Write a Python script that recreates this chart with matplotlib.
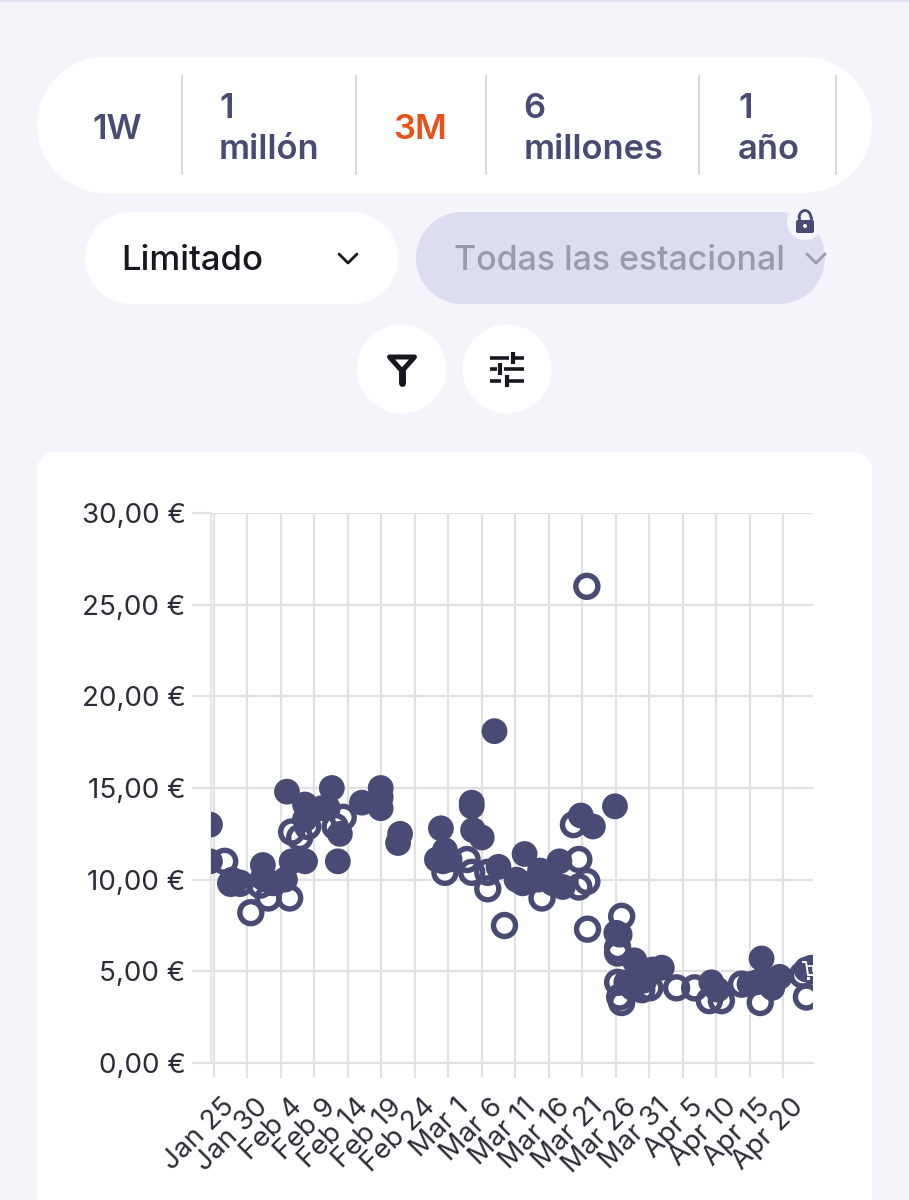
import numpy as np
import matplotlib
matplotlib.use("Agg")
import matplotlib.pyplot as plt
from matplotlib.patches import FancyBboxPatch, Circle, Polygon, Rectangle, Arc
from matplotlib.transforms import ScaledTranslation

plt.rcParams['font.family'] = ['Inter', 'DejaVu Sans']

# ---------- data ----------
tick_days = [0, 5, 10, 15, 20, 25, 30, 35, 40, 45, 50, 55, 60, 65, 70, 75, 80, 85]
tick_labels = ["Jan 25", "Jan 30", "Feb 4", "Feb 9", "Feb 14", "Feb 19", "Feb 24", "Mar 1", "Mar 6",
               "Mar 11", "Mar 16", "Mar 21", "Mar 26", "Mar 31", "Apr 5", "Apr 10", "Apr 15", "Apr 20"]
y_ticks = [0, 5, 10, 15, 20, 25, 30]
y_labels = ["0,00 €", "5,00 €", "10,00 €", "15,00 €", "20,00 €", "25,00 €", "30,00 €"]

filled_days = [-0.6, -0.6, 2.7, 3.2, 7.3, 7.3, 8.8, 10.6, 11.6, 13.6, 10.9, 13.6, 13.6, 17.6, 17.0, 16.1,
               18.8, 18.5, 22.1, 24.9, 24.9, 24.9, 27.8, 27.5, 33.9, 34.5, 33.3, 34.2, 35.2, 38.5, 38.5,
               38.7, 40.0, 41.9, 42.5, 46.4, 45.2, 46.1, 48.7, 48.4, 51.6, 52.1, 50.6, 54.8, 56.6, 59.9,
               60.1, 60.6, 62.8, 66.9, 65.5, 62.5, 61.6, 64.3, 74.3, 75.2, 81.0, 83.4, 82.2, 81.8, 84.5,
               88.5, 89.3, 80.0]
filled_prices = [13.0, 11.0, 10.0, 9.9, 10.8, 10.1, 9.8, 10.0, 11.0, 11.0, 14.8, 14.1, 13.3, 15.0, 13.9, 13.9,
                 12.5, 11.0, 14.2, 15.0, 14.5, 13.9, 12.5, 12.0, 12.8, 11.6, 11.1, 11.0, 11.1, 14.2, 14.0,
                 12.7, 12.3, 18.1, 10.7, 11.4, 10.0, 9.8, 10.5, 10.0, 11.0, 9.6, 9.8, 13.5, 12.9, 14.0,
                 7.1, 7.0, 5.6, 5.2, 5.1, 4.1, 4.4, 4.5, 4.4, 4.0, 4.4, 4.1, 4.6, 5.7, 4.7,
                 5.1, 5.2, 4.3]
hollow_days = [1.6, 2.5, 3.9, 5.5, 6.9, 8.1, 11.3, 11.6, 12.8, 14.0, 18.1, 19.3, 34.5, 37.8, 38.5, 40.9,
               40.9, 43.4, 49.0, 54.5, 55.7, 54.5, 53.7, 55.7, 55.8, 60.9, 60.3, 60.3, 60.3, 60.9, 60.6,
               65.1, 63.9, 69.1, 71.8, 74.0, 75.8, 78.8, 81.6, 88.5, 87.9]
hollow_prices = [11.0, 9.8, 9.8, 8.2, 9.7, 9.0, 9.0, 12.6, 12.3, 12.9, 12.9, 13.4, 10.4, 11.1, 10.4, 10.4,
                 9.5, 7.5, 9.0, 11.1, 9.9, 9.6, 13.0, 26.0, 7.3, 8.0, 6.0, 6.3, 4.4, 3.3, 3.6,
                 4.1, 4.0, 4.1, 4.1, 3.4, 3.4, 4.3, 3.3, 3.6, 4.8]

INK = "#4A4B74"
GRID = "#E0E0E5"
TEXT = "#2C2C38"

W, H = 909, 1200
fig = plt.figure(figsize=(W / 100, H / 100), dpi=100, facecolor="#F4F4FB")

# ---------- page furniture, in pixel coordinates ----------
bg = fig.add_axes([0, 0, 1, 1], zorder=0)
bg.set_xlim(0, W)
bg.set_ylim(H, 0)
bg.axis("off")

def pill(x0, y0, x1, y1, r, color):
    t = np.linspace(0, np.pi / 2, 40)
    xs = np.r_[x1 - r + r * np.sin(t), x1 - r + r * np.cos(t), x0 + r - r * np.sin(t), x0 + r - r * np.cos(t)]
    ys = np.r_[y0 + r - r * np.cos(t), y1 - r + r * np.sin(t), y1 - r + r * np.cos(t), y0 + r - r * np.sin(t)]
    bg.add_patch(Polygon(np.c_[xs, ys], closed=True, fc=color, ec="none"))

bg.plot([0, W], [0.5, 0.5], color="#E2E2F2", lw=1.5)
pill(37, 57, 872, 193, 68, "white")
pill(85, 212, 398, 304, 46, "white")
pill(416, 212, 825, 304, 46, "#DCDDF0")
pill(37, 452, 872, 1260, 18, "white")
bg.add_patch(Circle((401.5, 369), 44.5, fc="white", ec="none"))
bg.add_patch(Circle((507, 369), 44.5, fc="white", ec="none"))

for sx in [182, 356, 486, 699, 836]:
    bg.plot([sx, sx], [76, 174], color="#CFCFD6", lw=1.2)

TAB = dict(color=INK, fontsize=24.8, fontweight=600, va="baseline", ha="left")
bg.text(92.5, 139, "1W", **TAB)
bg.text(219, 118, "1", **TAB)
bg.text(219, 159, "millón", **TAB)
bg.text(523.5, 118, "6", **TAB)
bg.text(523.5, 159, "millones", **TAB)
bg.text(738, 118, "1", **TAB)
bg.text(738, 159, "año", **TAB)
bg.text(393.5, 139, "3M", **{**TAB, "color": "#E8521A"})

bg.text(121.5, 270, "Limitado", color="#17171F", fontsize=25, va="baseline", ha="left", fontweight=500)
bg.text(454, 270, "Todas las estacional", color="#9A9BA8", fontsize=24.4, va="baseline", ha="left", fontweight=500)

def chevron(cx, cy, color):
    bg.plot([cx - 9, cx, cx + 9], [cy - 4, cy + 5, cy - 4], color=color, lw=2.0,
            solid_capstyle="round", solid_joinstyle="round")

chevron(348, 258, "#17171F")
chevron(816, 258, "#9A9BA8")

# lock badge
bg.add_patch(Circle((805, 222), 18, fc="#F4F4FB", ec="none"))
bg.add_patch(FancyBboxPatch((796, 220), 18, 13, boxstyle="round,pad=0,rounding_size=2", fc=INK, ec="none"))
bg.add_patch(Arc((805, 218), 12, 15, theta1=180, theta2=360, ec=INK, lw=2.0))
bg.plot([799, 799], [218, 221], color=INK, lw=2.0)
bg.plot([811, 811], [218, 221], color=INK, lw=2.0)
bg.add_patch(Circle((805, 226), 2, fc="white", ec="none"))

# filter icon
ICON = "#17171F"
bg.add_patch(Polygon([(389.5, 357), (414.5, 357), (402, 371)], closed=True, fc="white", ec=ICON, lw=3.6,
                     joinstyle="round"))
bg.plot([402, 402], [371, 383], color=ICON, lw=5, solid_capstyle="round")

# sliders icon
for y, parts, vx, vy in [(358, [(490, 509), (513, 524)], 513, (352, 364)),
                         (369, [(490, 497), (504, 524)], 500, (363, 375)),
                         (381, [(490, 501), (507, 524)], 507, (375, 387))]:
    for a, b in parts:
        bg.plot([a, b], [y, y], color=ICON, lw=2.6, solid_capstyle="butt")
    bg.plot([vx, vx], vy, color=ICON, lw=3.0, solid_capstyle="butt")

# ---------- chart ----------
x0, x1, ytop, ybot = 210.5, 813, 513, 1063
ax = fig.add_axes([x0 / W, 1 - ybot / H, (x1 - x0) / W, (ybot - ytop) / H], zorder=1)
ax.patch.set_alpha(0)
px_per_day = 33.47 / 5
ax.set_xlim((x0 - 214) / px_per_day, (x1 - 214) / px_per_day)
ax.set_ylim(0, 30)

ax.set_axisbelow(True)
ax.grid(True, color=GRID, lw=1.6)
for side in ["top", "right"]:
    ax.spines[side].set_visible(False)
ax.spines["left"].set_color(GRID)
ax.spines["left"].set_linewidth(1.2)
ax.spines["bottom"].set_color(GRID)
ax.spines["bottom"].set_linewidth(1.6)

ax.set_xticks(tick_days)
ax.set_xticklabels(tick_labels, rotation=45, ha="right", va="center", rotation_mode="anchor",
                   fontsize=20, color=TEXT)
ax.set_yticks(y_ticks)
ax.set_yticklabels(y_labels, fontsize=20, color=TEXT)
ax.tick_params(axis="x", length=11, width=1.6, color=GRID, pad=2)
ax.tick_params(axis="y", length=14, width=1.6, color=GRID, pad=4)
offset = ScaledTranslation(17 / 100, -22 / 100, fig.dpi_scale_trans)
for lab in ax.get_xticklabels():
    lab.set_transform(lab.get_transform() + offset)

ax.scatter(hollow_days, hollow_prices, s=250, facecolor="white", edgecolor="none", zorder=3)
ax.scatter(hollow_days, hollow_prices, s=250, facecolor="none", edgecolor=INK, linewidth=3.9, zorder=4)
ax.scatter(filled_days, filled_prices, s=345, facecolor=INK, edgecolor="none", zorder=5)

# small cart glyph on the last marker
cart = fig.add_axes([0, 0, 1, 1], zorder=2)
cart.set_xlim(0, W)
cart.set_ylim(H, 0)
cart.axis("off")
cart.plot([803, 806, 808, 813], [962, 962, 975, 975], color="white", lw=1.4, clip_on=True)
cart.plot([807, 813, 813], [966, 966, 971], color="white", lw=1.2)
cart.add_patch(Rectangle((807, 977), 2.5, 2.5, fc="white", ec="none"))

fig.savefig("out.png", dpi=100, facecolor=fig.get_facecolor())
